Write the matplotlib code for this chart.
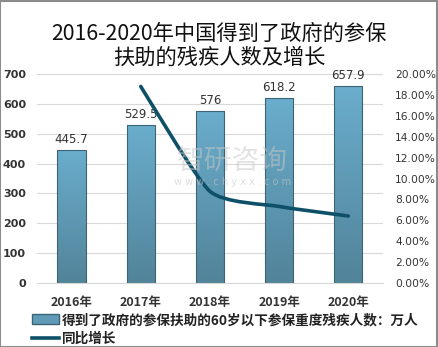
import matplotlib
matplotlib.use("Agg")
import matplotlib.pyplot as plt
import numpy as np
from matplotlib.path import Path
from matplotlib.patches import PathPatch, Rectangle
from matplotlib.lines import Line2D
from matplotlib.colors import LinearSegmentedColormap

plt.rcParams['font.family'] = ['Noto Sans CJK SC', 'DejaVu Sans']

years = ["2016年", "2017年", "2018年", "2019年", "2020年"]
people = [445.7, 529.5, 576, 618.2, 657.9]
growth = [None, 18.80, 8.78, 7.33, 6.42]  # %
bar_label = "得到了政府的参保扶助的60岁以下参保重度残疾人数：万人"
line_label = "同比增长"
title = "2016-2020年中国得到了政府的参保\n扶助的残疾人数及增长"

fig = plt.figure(figsize=(4.38, 3.47), dpi=100)
fig.patch.set_facecolor("white")
ax = fig.add_axes([0.0845, 0.184, 0.7895, 0.603])
ax2 = ax.twinx()

x = np.arange(len(years))
bars = ax.bar(x, people, width=0.41, color="none", edgecolor="#3d6474", linewidth=0.8, zorder=3)

# vertical gradient fill for each bar
grad = np.linspace(0, 1, 100).reshape(-1, 1)
cmap = LinearSegmentedColormap.from_list("g", ["#52849a", "#6aadcc"])
for b in bars:
    x0, y0 = b.get_x(), b.get_y()
    w, h = b.get_width(), b.get_height()
    im = ax.imshow(grad, cmap=cmap, aspect="auto", origin="lower",
                   extent=[x0, x0 + w, y0, y0 + h], zorder=2)
    im.set_clip_path(b)
for xi, v in zip(x, people):
    ax.text(xi, v + 14, f"{v:g}", ha="center", va="bottom", fontsize=8.5,
            color="#333333", family="DejaVu Sans", zorder=5)

ax.set_xlim(-0.5, len(years) - 0.5)
ax.set_ylim(0, 700)
ax.set_yticks(range(0, 701, 100))
ax.set_xticks(x)
ax.set_xticklabels(years, fontsize=9, fontweight="bold", color="#333333")
ax.tick_params(axis="both", length=0)
ax.tick_params(axis="x", pad=9)
ax.tick_params(axis="y", pad=8)
for lab in ax.get_yticklabels():
    lab.set_fontsize(8)
    lab.set_fontweight("bold")
    lab.set_color("#333333")
    lab.set_family("DejaVu Sans")
ax.grid(axis="y", color="#d9d9d9", linewidth=0.8, zorder=0)
ax.set_axisbelow(True)
for s in ax.spines.values():
    s.set_visible(False)
ax.spines["bottom"].set_visible(True)
ax.spines["bottom"].set_color("#d9d9d9")

# smoothed growth line (Bezier through the points)
gx = [xi for xi, g in zip(x, growth) if g is not None]
gy = [g for g in growth if g is not None]
pts = np.column_stack([gx, gy]).astype(float)
verts = [tuple(pts[0])]
codes = [Path.MOVETO]
n = len(pts)
for i in range(n - 1):
    p0 = pts[i - 1] if i > 0 else pts[i]
    p1 = pts[i]
    p2 = pts[i + 1]
    p3 = pts[i + 2] if i + 2 < n else pts[i + 1]
    c1 = p1 + (p2 - p0) / 10.0
    c2 = p2 - (p3 - p1) / 10.0
    verts += [tuple(c1), tuple(c2), tuple(p2)]
    codes += [Path.CURVE4] * 3
ax2.add_patch(PathPatch(Path(verts, codes), facecolor="none", edgecolor="#0e5068",
                        linewidth=2.6, capstyle="round", zorder=4))
ax2.set_ylim(0, 20)
ax2.set_yticks(np.arange(0, 20.1, 2))
ax2.set_yticklabels([f"{t:.2f}%" for t in np.arange(0, 20.1, 2)], fontsize=7.7,
                    color="#333333", family="DejaVu Sans")
ax2.tick_params(axis="y", length=0, pad=9)
for s in ax2.spines.values():
    s.set_visible(False)

# watermark
fig.text(0.53, 0.535, "智研咨询", fontsize=20, color="#c8c8c8", alpha=0.5, ha="center", va="center")
fig.text(0.53, 0.475, "w w w . c h y x x . c o m", fontsize=7, color="#c8c8c8", alpha=0.6,
         ha="center", va="center", family="DejaVu Sans")

fig.text(0.5, 0.935, title, ha="center", va="top", fontsize=15.3, linespacing=1.15, color="#111111")

# legend
handles = [Rectangle((0, 0), 1, 1, facecolor="#5f9bb6", edgecolor="#3d6474"),
           Line2D([], [], color="#0e5068", linewidth=2.6)]
leg = fig.legend(handles, [bar_label, line_label], loc="upper left",
                 bbox_to_anchor=(0.072, 0.098), frameon=False, handlelength=2.0,
                 handletextpad=0.2, borderpad=0, borderaxespad=0, labelspacing=0.38,
                 prop={"size": 9.8, "weight": "bold"})
for t in leg.get_texts():
    t.set_color("#222222")

fig.add_artist(Rectangle((0.001, 0.001), 0.997, 0.996, transform=fig.transFigure,
                         fill=False, edgecolor="#8c8c8c", linewidth=1.5))

fig.savefig("out.png", dpi=100)
